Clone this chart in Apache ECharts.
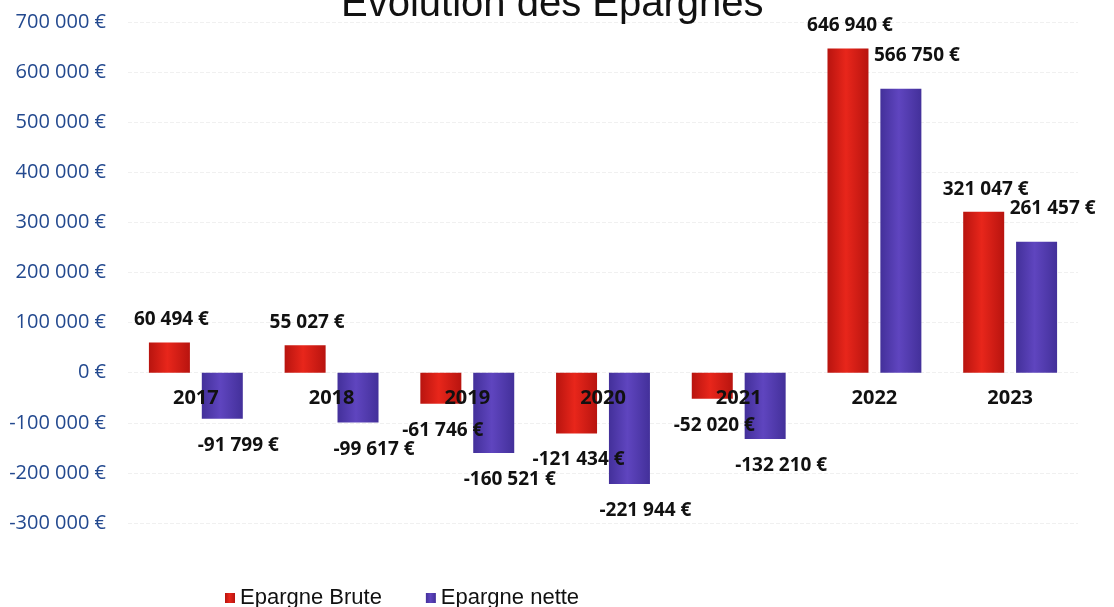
<!DOCTYPE html>
<html>
<head>
<meta charset="utf-8">
<script src="https://cdn.jsdelivr.net/npm/echarts@6/dist/echarts.min.js"></script>
<style>
  html, body { margin: 0; padding: 0; background: #fff; }
  #chart { width: 1114px; height: 607px; }
</style>
</head>
<body>
<div id="chart"></div>
<script>
// data
var years = ['2017', '2018', '2019', '2020', '2021', '2022', '2023'];
var epargneBrute = [60494, 55027, -61746, -121434, -52020, 646940, 321047];
var epargneNette = [-91799, -99617, -160521, -221944, -132210, 566750, 261457];
var yTicks = [-300000, -200000, -100000, 0, 100000, 200000, 300000, 400000, 500000, 600000, 700000];

function euro(v) {
  var s = Math.abs(Math.round(v)).toString().replace(/\B(?=(\d{3})+(?!\d))/g, ' ');
  return (v < 0 ? '-' : '') + s + ' €';
}

// label goes above positive bars, below negative ones
function withLabels(values, shiftX, upDist) {
  return values.map(function (v) {
    return {
      value: v,
      label: {
        position: v < 0 ? 'bottom' : 'top',
        distance: v < 0 ? 17 : upDist,
        offset: [shiftX, 0]
      }
    };
  });
}

function barColor(dark, mid) {
  return new echarts.graphic.LinearGradient(0, 0, 1, 0, [
    { offset: 0, color: dark },
    { offset: 0.45, color: mid },
    { offset: 1, color: dark }
  ]);
}

var labelFont = {
  show: true,
  fontFamily: 'Open Sans',
  fontWeight: 'bold',
  fontSize: 19,
  color: '#111',
  formatter: function (p) { return euro(p.value); }
};

var chart = echarts.init(document.getElementById('chart'));

chart.setOption({
  animation: false,
  title: {
    text: 'Evolution des Epargnes',
    left: 336,
    top: -20,
    textStyle: {
      fontFamily: 'Liberation Sans',
      fontWeight: 'normal',
      fontSize: 40,
      color: '#111'
    }
  },
  legend: {
    left: 220,
    top: 582,
    itemWidth: 10,
    itemHeight: 10,
    itemGap: 44,
    icon: 'rect',
    textStyle: {
      fontFamily: 'Liberation Sans',
      fontSize: 22,
      color: '#111'
    },
    data: ['Epargne Brute', 'Epargne nette']
  },
  grid: {
    left: 128,
    right: 36,
    top: 22,
    bottom: 84
  },
  xAxis: {
    type: 'category',
    data: years,
    z: 10,
    offset: -150, // years sit on the zero line
    axisLine: { show: false },
    axisTick: { show: false },
    axisLabel: {
      margin: 15,
      fontFamily: 'Open Sans',
      fontWeight: 'bold',
      fontSize: 20,
      color: '#111'
    }
  },
  yAxis: {
    type: 'value',
    min: yTicks[0],
    max: yTicks[yTicks.length - 1],
    interval: 100000,
    axisLine: { show: false },
    axisTick: { show: false },
    splitLine: { lineStyle: { color: '#f0f0f0', type: 'dashed' } },
    axisLabel: {
      margin: 22,
      fontFamily: 'Open Sans',
      fontSize: 20,
      color: '#23498f',
      formatter: euro
    }
  },
  series: [
    {
      name: 'Epargne Brute',
      type: 'bar',
      barWidth: 41,
      barGap: '29%',
      data: withLabels(epargneBrute, 2, 13),
      itemStyle: { color: barColor('#b8140f', '#e8261b') },
      label: labelFont
    },
    {
      name: 'Epargne nette',
      type: 'bar',
      barWidth: 41,
      data: withLabels(epargneNette, 16, 24),
      itemStyle: { color: barColor('#43309a', '#5f45bf') },
      label: labelFont
    }
  ]
});
</script>
</body>
</html>
